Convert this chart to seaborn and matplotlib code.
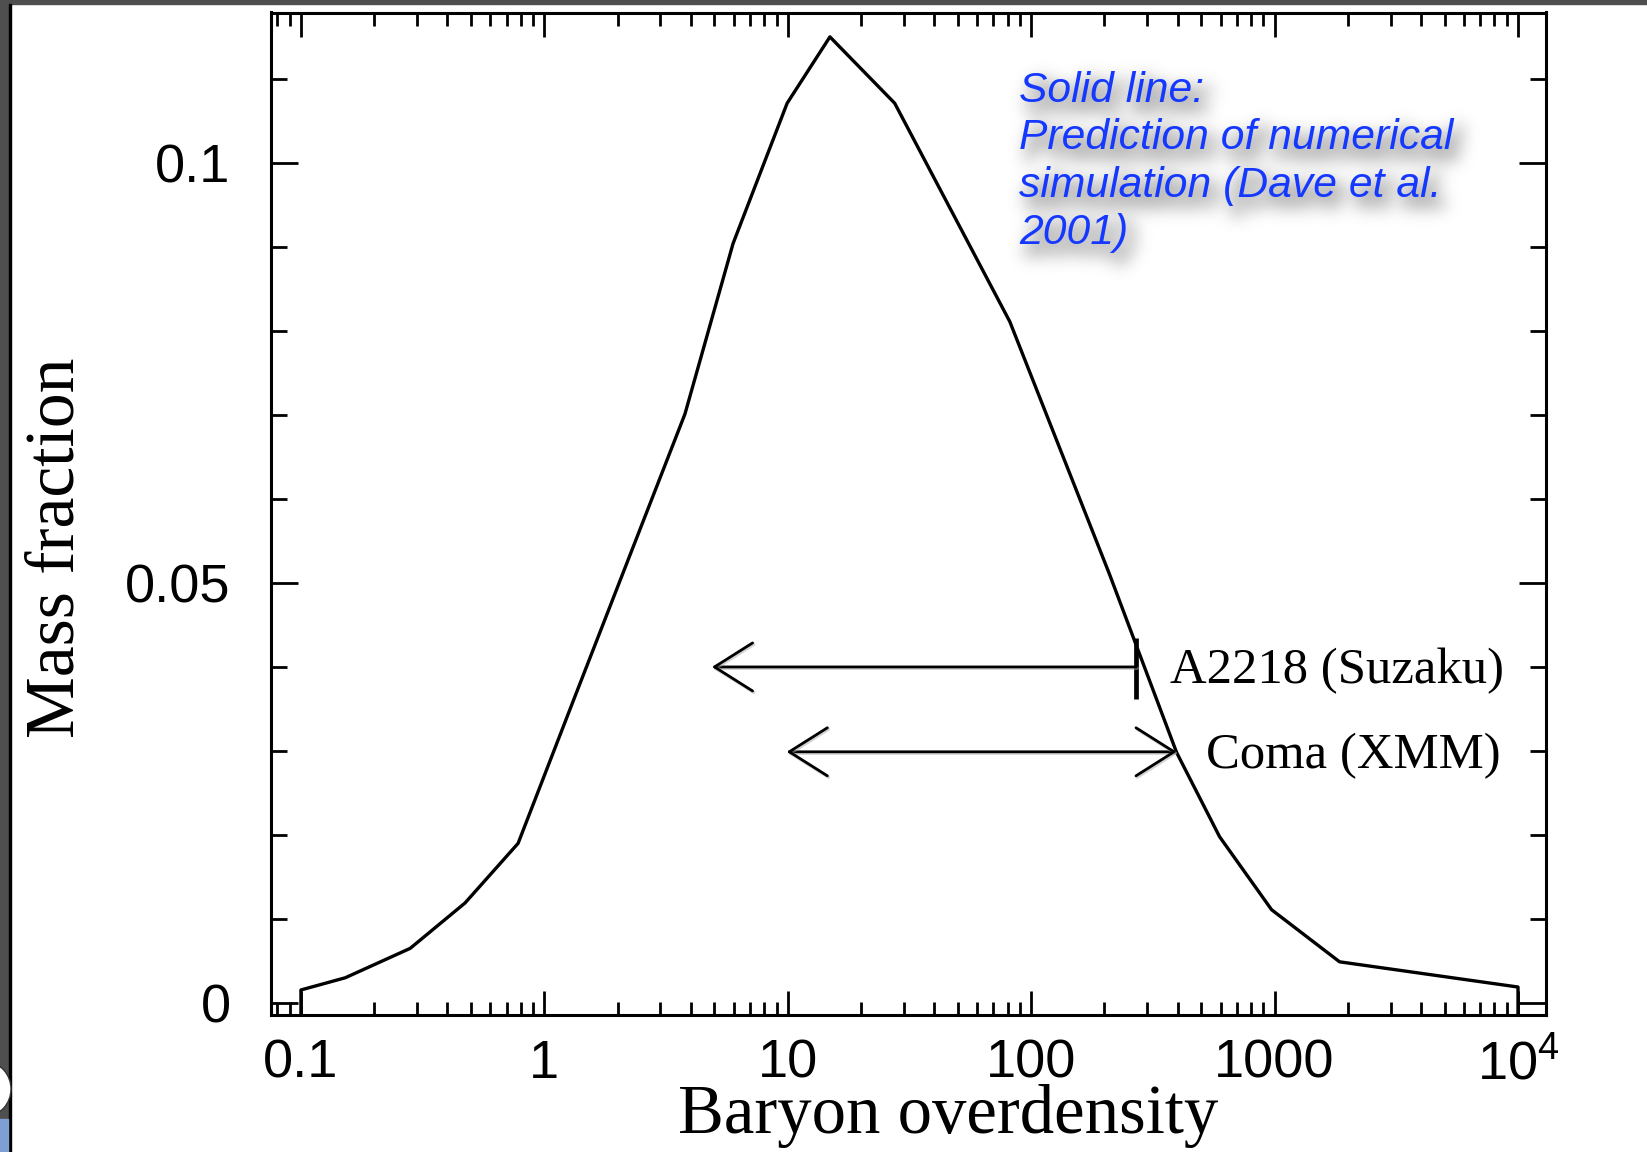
import numpy as np
import matplotlib
matplotlib.use("Agg")
import matplotlib.pyplot as plt
import matplotlib.ticker as mticker
import matplotlib.patheffects as pe
import matplotlib.transforms as mtrans
from matplotlib.patches import Rectangle, Ellipse
import seaborn as sns

# ---------------- data ----------------
overdensity = [0.1, 0.1, 0.152, 0.281, 0.472, 0.780, 1.32, 2.24, 3.78, 5.96,
               9.94, 14.9, 27.5, 81.7, 210, 396, 594, 972, 1849, 10000, 10000]
mass_fraction = [-0.002, 0.00155, 0.0030, 0.0065, 0.0119, 0.0190, 0.0361,
                 0.0532, 0.0701, 0.0904, 0.1071, 0.1150, 0.1071, 0.0811,
                 0.0510, 0.0298, 0.0198, 0.0111, 0.0049, 0.0019, -0.002]

x_ticks = [0.1, 1, 10, 100, 1000, 10000]
x_labels = ["0.1", "1", "10", "100", "1000", r"$\mathregular{10^4}$"]
y_ticks = [0, 0.05, 0.1]
y_labels = ["0", "0.05", "0.1"]

a2218_x = [4.88, 270]      # arrow tip, bar position
a2218_y = 0.04
a2218_bar = [0.0362, 0.0435]
coma_x = [9.9, 396]
coma_y = 0.0299

note_text = "Solid line:\nPrediction of numerical\nsimulation (Dave et al.\n2001)"


# ---------------- blurred drop-shadow filter ----------------
class BlurShadow:
    def __init__(self, sigma_px=7.0, ox_px=6, oy_px=8, strength=0.55):
        self.sigma = sigma_px
        self.ox = ox_px
        self.oy = oy_px
        self.strength = strength

    def __call__(self, im, dpi):
        pad = int(3 * self.sigma) + max(abs(self.ox), abs(self.oy)) + 2
        src = np.pad(im, [(pad, pad), (pad, pad), (0, 0)], "constant")
        alpha = src[:, :, 3].copy()
        r = int(3 * self.sigma)
        xs = np.arange(-r, r + 1)
        k = np.exp(-0.5 * (xs / self.sigma) ** 2)
        k /= k.sum()
        out = np.zeros_like(alpha)
        for i, w in zip(xs, k):
            out += w * np.roll(alpha, i, axis=0)
        out2 = np.zeros_like(out)
        for i, w in zip(xs, k):
            out2 += w * np.roll(out, i, axis=1)
        out2 = np.roll(out2, self.ox, axis=1)
        out2 = np.roll(out2, self.oy, axis=0)
        tgt = np.zeros_like(src)
        tgt[:, :, 0] = 0.35
        tgt[:, :, 1] = 0.35
        tgt[:, :, 2] = 0.35
        tgt[:, :, 3] = np.clip(out2 * self.strength, 0, 1)
        return tgt, -pad, -pad


# ---------------- style ----------------
sns.set_style("ticks")
plt.rcParams["font.family"] = ["Liberation Sans", "DejaVu Sans"]
plt.rcParams["mathtext.fontset"] = "custom"
plt.rcParams["mathtext.rm"] = "Liberation Sans"

W, H = 1647, 1152
fig = plt.figure(figsize=(W / 100, H / 100), dpi=100)
fig.patch.set_facecolor("white")

ax = fig.add_axes([271 / W, 1 - 1015 / H, (1546 - 271) / W, (1015 - 12.5) / H])
ax.set_facecolor("white")
ax.set_xscale("log")

sns.lineplot(x=overdensity, y=mass_fraction, sort=False, estimator=None,
             color="black", linewidth=2.4, ax=ax)

ax.set_xlim(10 ** -1.123, 10 ** 4.115)
ax.set_ylim(-0.00143, 0.1179)

for s in ax.spines.values():
    s.set_visible(True)
    s.set_linewidth(2.2)
    s.set_color("black")

ax.xaxis.set_major_locator(mticker.FixedLocator(x_ticks))
ax.xaxis.set_major_formatter(mticker.FixedFormatter(x_labels))
ax.xaxis.set_minor_locator(mticker.LogLocator(base=10, subs=range(2, 10), numticks=20))
ax.xaxis.set_minor_formatter(mticker.NullFormatter())
ax.yaxis.set_major_locator(mticker.FixedLocator(y_ticks))
ax.yaxis.set_major_formatter(mticker.FixedFormatter(y_labels))
ax.yaxis.set_minor_locator(mticker.MultipleLocator(0.01))

ax.tick_params(which="both", direction="in", top=True, right=True,
               width=2.0, color="black", labelcolor="black", labelsize=39)
ax.tick_params(axis="x", which="major", length=17.5, pad=17)
ax.tick_params(axis="x", which="minor", length=9.5)
ax.tick_params(axis="y", which="major", length=19.5, pad=29)
ax.tick_params(axis="y", which="minor", length=11.5)

# annotation arrows (with faint shadow on the shaft)
arrow_shadow = [pe.Stroke(offset=(0.8, -1.0), linewidth=2.4, foreground="#a8a8a8", alpha=0.5),
                pe.Normal()]
ax.annotate("", xy=(a2218_x[0], a2218_y), xytext=(a2218_x[1], a2218_y),
            arrowprops=dict(arrowstyle="->,head_length=2.74,head_width=1.73",
                            mutation_scale=10, lw=2.0, color="black",
                            shrinkA=0, shrinkB=0, path_effects=arrow_shadow))
ax.plot([a2218_x[1], a2218_x[1]], a2218_bar, color="black", lw=3.4,
        solid_capstyle="butt")
ax.annotate("", xy=(coma_x[0], coma_y), xytext=(coma_x[1], coma_y),
            arrowprops=dict(arrowstyle="<->,head_length=2.74,head_width=1.73",
                            mutation_scale=10, lw=2.0, color="black",
                            shrinkA=0, shrinkB=0, path_effects=arrow_shadow))

ax.annotate("A2218 (Suzaku)", xy=(a2218_x[1], a2218_y), xytext=(24.5, -2.5),
            textcoords="offset points", ha="left", va="center",
            fontsize=36.5, family=["Liberation Serif"], color="black")
ax.annotate("Coma (XMM)", xy=(coma_x[1], coma_y), xytext=(21, -3),
            textcoords="offset points", ha="left", va="center",
            fontsize=36.5, family=["Liberation Serif"], color="black")

# axis labels
fig.text(948 / W, 1 - 1133 / H, "Baryon overdensity", ha="center", va="baseline",
         fontsize=49.5, family=["Liberation Serif"], color="black")
fig.text(57 / W, 1 - 548 / H, "Mass fraction", ha="center", va="center",
         rotation=90, fontsize=50, family=["Liberation Serif"], color="black")

# blue note with soft blurred shadow
note_kw = dict(ha="left", va="top", fontsize=30.7, style="italic",
               linespacing=1.24, family=["Liberation Sans"])
shadow_txt = fig.text(1019 / W, 1 - 71 / H, note_text, color="#404040",
                      path_effects=[pe.Stroke(linewidth=5, foreground="#404040"), pe.Normal()],
                      zorder=4, **note_kw)
shadow_txt.set_agg_filter(BlurShadow(sigma_px=8.0, ox_px=7, oy_px=9, strength=0.42))
fig.text(1019 / W, 1 - 71 / H, note_text, color="#1538ff", zorder=5, **note_kw)

# screenshot frame decorations
ident = mtrans.IdentityTransform()
fig.patches.append(Rectangle((0, 0), 9, H, transform=ident, color="#4f4f4f", zorder=0))
fig.patches.append(Rectangle((0, H - 4), W, 4, transform=ident, color="#4f4f4f", zorder=0))
fig.patches.append(Rectangle((9, 0), 1.5, H - 4, transform=ident, color="black", zorder=0))
fig.patches.append(Rectangle((0, 0), 8, H - 1119, transform=ident, color="#7d9fd3", zorder=1))
fig.patches.append(Ellipse((-14, H - 1089), 50, 54, transform=ident, facecolor="white",
                           edgecolor="#333333", lw=1, zorder=2))

fig.savefig("out.png", dpi=100)
